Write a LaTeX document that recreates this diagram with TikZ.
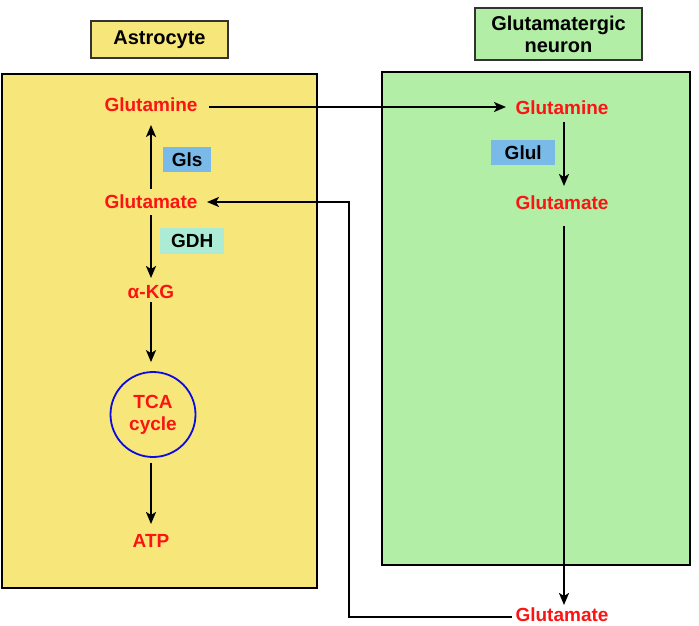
\documentclass[tikz,border=0pt]{standalone}
\usepackage{fontspec}
\setmainfont{Liberation Sans}
\usetikzlibrary{arrows.meta}
\definecolor{astroyellow}{RGB}{247,230,122}
\definecolor{neurongreen}{RGB}{178,238,166}
\definecolor{enzblue}{RGB}{122,186,232}
\definecolor{enzteal}{RGB}{172,236,214}
\definecolor{metred}{RGB}{250,20,20}
\definecolor{cycleblue}{RGB}{10,10,225}
\begin{document}
\begin{tikzpicture}[x=1pt,y=-1pt,
    met/.style={text=metred,font=\fontsize{19}{21}\bfseries,inner sep=0pt},
    enz/.style={font=\fontsize{19}{21}\bfseries,inner sep=0pt,anchor=north west},
    title/.style={draw=black!80,line width=1.6pt,font=\fontsize{20}{23}\bfseries,align=center},
    flow/.style={-{Stealth[length=12pt,width=10pt,inset=3pt]},line width=1.9pt}]
    \useasboundingbox (0,0) rectangle (699,625);
    % the cells
    \draw[fill=astroyellow,line width=1.8pt] (2,74) rectangle (317,588);
    \draw[fill=neurongreen,line width=1.8pt] (382,72) rectangle (690,565);
    \node[title,fill=astroyellow,minimum width=137pt,minimum height=37pt] (astro) at (159.5,39.5) {Astrocyte};
    \node[title,fill=neurongreen,minimum width=167pt,minimum height=52pt] (neuron) at (558.5,34) {Glutamatergic\\[-1pt]neuron};

    % the astrocyte
    \node[met] (glnA) at (151,105) {Glutamine};
    \node[met] (gluA) at (151,202) {Glutamate};
    \node[met] (akg) at (151,292) {α-KG};
    \node[draw=cycleblue,line width=1.8pt,circle,minimum size=85pt,text=metred,
        font=\fontsize{19}{22}\bfseries,align=center,inner sep=0pt] (tca) at (153,414.5) {TCA\\cycle};
    \node[met] (atp) at (151,541) {ATP};
    \node[enz,fill=enzblue,minimum width=48pt,minimum height=25pt] (gls) at (163,147) {Gls};
    \node[enz,fill=enzteal,minimum width=64pt,minimum height=26pt] (gdh) at (160,228) {GDH};

    % the neuron
    \node[met] (glnN) at (562,108) {Glutamine};
    \node[met] (gluN) at (562,203) {Glutamate};
    \node[met] (gluX) at (562,615) {Glutamate};
    \node[enz,fill=enzblue,minimum width=64pt,minimum height=25pt] (glul) at (491,140) {Glul};

    \draw[flow] ([yshift=13pt]gluA.center) -- ([yshift=-20pt]glnA.center);
    \draw[flow] ([yshift=-13pt]gluA.center) -- ([yshift=14pt]akg.center);
    \draw[flow] ([yshift=-10pt]akg.center) -- ([xshift=-2pt,yshift=9pt]tca.north);
    \draw[flow] ([xshift=-2pt,yshift=-5pt]tca.south) -- ([yshift=17pt]atp.center);
    \draw[flow] ([xshift=58pt,yshift=-2pt]glnA.center) -- ([xshift=-56pt,yshift=1pt]glnN.center);
    \draw[flow] ([xshift=2pt,yshift=-14pt]glnN.center) -- ([xshift=2pt,yshift=17pt]gluN.center);
    \draw[flow] ([xshift=2pt,yshift=-23pt]gluN.center) -- ([xshift=2pt,yshift=10pt]gluX.center);
    \draw[flow] ([xshift=-3pt,yshift=-2pt]gluX.west) -| ([xshift=198pt]gluA.center)
        -- ([xshift=56pt]gluA.center);
\end{tikzpicture}
\end{document}
